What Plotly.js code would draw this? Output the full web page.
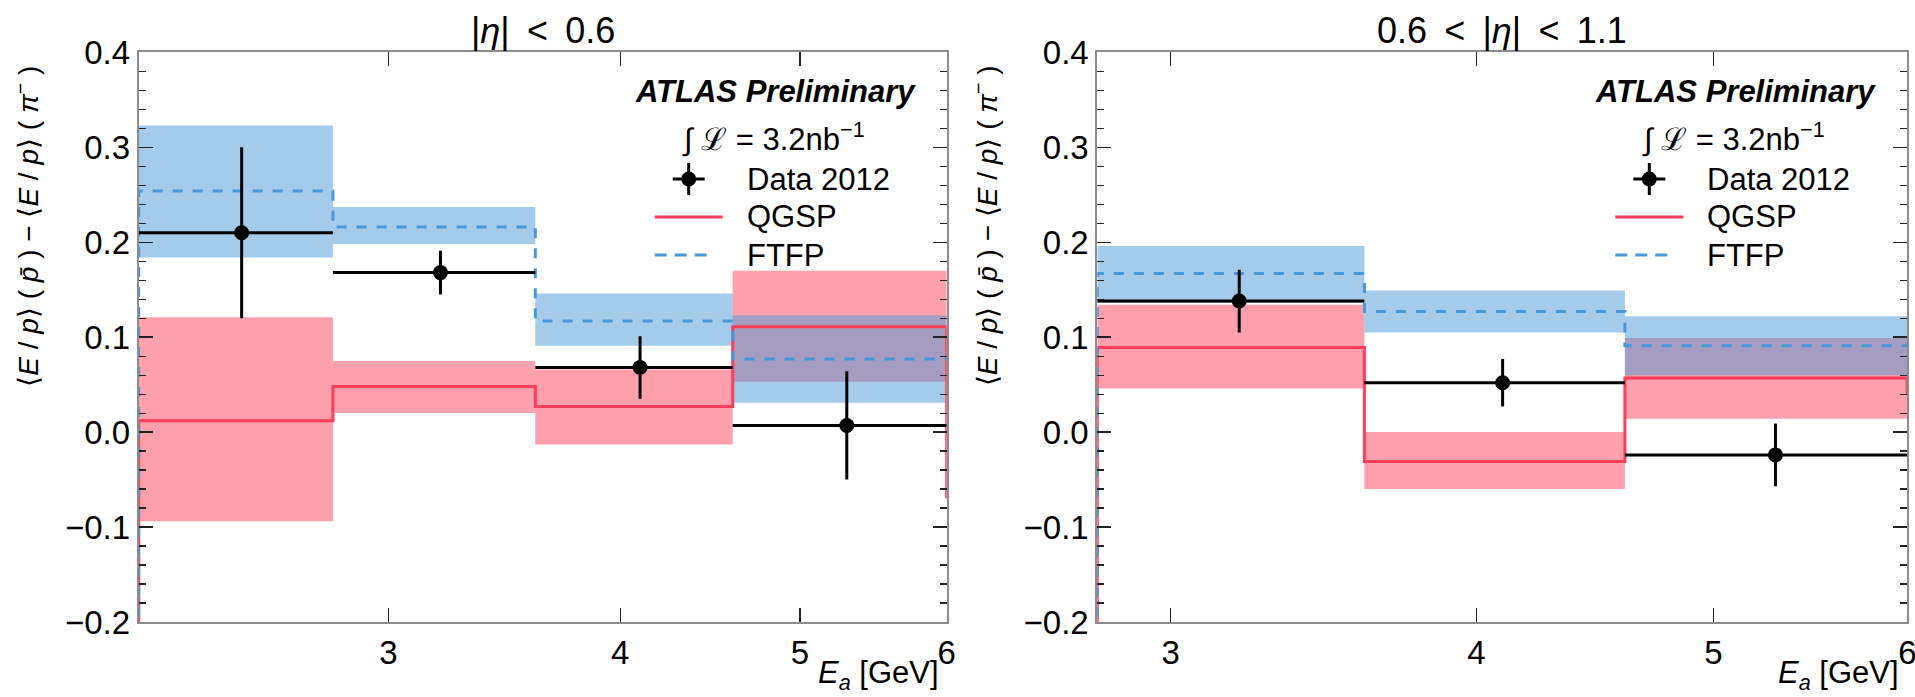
<!DOCTYPE html>
<html>
<head>
<meta charset="utf-8">
<script src="https://cdn.plot.ly/plotly-3.0.1.min.js"></script>
<style>
html, body { margin: 0; padding: 0; background: #fff; }
#chart { width: 1915px; height: 697px; }
</style>
</head>
<body>
<div id="chart"></div>
<script>
// ---------------- Data ----------------
// Panel 1: |eta| < 0.6
const edgesL   = [2.2, 2.8, 3.6, 4.6, 6.0];
const centersL = [2.5, 3.2, 4.1, 5.3];
const dataL    = [0.210, 0.168, 0.068, 0.007];
const dataErrL = [0.090, 0.023, 0.033, 0.057];
const qgspL    = [0.012, 0.048, 0.027, 0.111];
const qgspLoL  = [-0.094, 0.020, -0.013, 0.053];
const qgspHiL  = [0.121, 0.075, 0.066, 0.170];
const ftfpL    = [0.254, 0.216, 0.117, 0.077];
const ftfpLoL  = [0.184, 0.198, 0.091, 0.031];
const ftfpHiL  = [0.323, 0.237, 0.146, 0.123];
const qgspNextL = -0.070;

// Panel 2: 0.6 < |eta| < 1.1
const edgesR   = [2.8, 3.6, 4.6, 6.0];
const centersR = [3.2, 4.1, 5.3];
const dataR    = [0.138, 0.052, -0.024];
const dataErrR = [0.033, 0.025, 0.033];
const qgspR    = [0.089, -0.031, 0.057];
const qgspLoR  = [0.046, -0.060, 0.014];
const qgspHiR  = [0.134, 0.000, 0.099];
const ftfpR    = [0.167, 0.127, 0.091];
const ftfpLoR  = [0.136, 0.105, 0.060];
const ftfpHiR  = [0.196, 0.149, 0.122];
const qgspNextR = 0.040;

const xTickVals = [3, 4, 5, 6];
const xTickText = ['3', '4', '5', '6'];
const titles = ['|<i>η</i>|\u2009 < \u20090.6', '0.6\u2009 < \u2009|<i>η</i>|\u2009 < \u20091.1'];
const seriesNames = ['Data 2012', 'QGSP', 'FTFP'];

// ---------------- Styles ----------------
const FONT = 'Liberation Sans, Arial, Helvetica, sans-serif';
const QCOL = 'rgb(255,62,90)';
const FCOL = 'rgb(70,152,218)';
const QFILL = 'rgba(255,65,89,0.5)';
const FFILL = 'rgba(75,151,215,0.5)';
const W = 1915, H = 697;
const px = v => v / W;
const py = v => 1 - v / H;

function stepXY(edges, vals, start, end) {
  const x = [], y = [];
  if (start !== null) { x.push(edges[0]); y.push(start); }
  for (let i = 0; i < vals.length; i++) { x.push(edges[i]); y.push(vals[i]); }
  x.push(edges[edges.length - 1]); y.push(vals[vals.length - 1]);
  if (end !== null) { x.push(edges[edges.length - 1]); y.push(end); }
  return {x, y};
}

function panelTraces(edges, centers, data, err, q, qlo, qhi, f, flo, fhi, qNext, xa, ya) {
  const t = [];
  const band = (lo, hi, col) => {
    const u = stepXY(edges, hi, null, null), l = stepXY(edges, lo, null, null);
    t.push({x: u.x, y: u.y, xaxis: xa, yaxis: ya, mode: 'lines', line: {shape: 'hv', width: 0}, showlegend: false, hoverinfo: 'skip'});
    t.push({x: l.x, y: l.y, xaxis: xa, yaxis: ya, mode: 'lines', line: {shape: 'hv', width: 0}, fill: 'tonexty', fillcolor: col, showlegend: false, hoverinfo: 'skip'});
  };
  band(qlo, qhi, QFILL);
  band(flo, fhi, FFILL);
  const qs = stepXY(edges, q, -0.3, qNext);
  t.push({x: qs.x, y: qs.y, xaxis: xa, yaxis: ya, mode: 'lines', name: seriesNames[1], line: {shape: 'hv', color: QCOL, width: 3}, showlegend: false});
  const fs = stepXY(edges, f, -0.3, null);
  t.push({x: fs.x, y: fs.y, xaxis: xa, yaxis: ya, mode: 'lines', name: seriesNames[2], line: {shape: 'hv', color: FCOL, width: 3, dash: '10px,10px'}, showlegend: false});
  const exPlus = centers.map((c, i) => edges[i + 1] - c);
  const exMinus = centers.map((c, i) => c - edges[i]);
  t.push({x: centers, y: data, xaxis: xa, yaxis: ya, mode: 'markers', name: seriesNames[0], marker: {color: '#000', size: 15},
    error_y: {type: 'data', array: err, color: '#000', thickness: 3, width: 0},
    error_x: {type: 'data', symmetric: false, array: exPlus, arrayminus: exMinus, color: '#000', thickness: 3, width: 0},
    showlegend: false});
  return t;
}

const traces = [].concat(
  panelTraces(edgesL, centersL, dataL, dataErrL, qgspL, qgspLoL, qgspHiL, ftfpL, ftfpLoL, ftfpHiL, qgspNextL, 'x', 'y'),
  panelTraces(edgesR, centersR, dataR, dataErrR, qgspR, qgspLoR, qgspHiR, ftfpR, ftfpLoR, ftfpHiR, qgspNextR, 'x2', 'y2')
);

const tickfont = {family: FONT, size: 33, color: '#000'};
function xAxis(lo, dom, anchor) {
  return {type: 'log', range: [Math.log10(lo), Math.log10(6)], domain: dom, anchor: anchor,
    tickmode: 'array', tickvals: xTickVals, ticktext: xTickText, ticks: 'inside', ticklen: 14, tickwidth: 1.3, tickcolor: '#222',
    ticklabeloverflow: 'allow',
    showline: true, linecolor: '#8c8c8c', linewidth: 2, mirror: 'ticks', showgrid: false, zeroline: false, tickfont: tickfont};
}
function yAxis(anchor) {
  return {range: [-0.2, 0.4], domain: [py(622), py(52.3)], anchor: anchor,
    tickmode: 'linear', tick0: 0, dtick: 0.1, tickformat: '.1f', ticks: 'inside', ticklen: 14, tickwidth: 1.3, tickcolor: '#222',
    minor: {tickmode: 'linear', tick0: 0, dtick: 0.02, ticks: 'inside', ticklen: 7, tickwidth: 1.2, tickcolor: '#222'},
    showline: true, linecolor: '#8c8c8c', linewidth: 2, mirror: 'ticks', showgrid: false, zeroline: false, tickfont: tickfont};
}

const ylabel = '⟨<i>E</i> / <i>p</i>⟩ ( <i>p̄</i> ) − ⟨<i>E</i> / <i>p</i>⟩ ( <i>π</i><sup>−</sup> )';
const xlabel = '<i>E</i><sub><i>a</i></sub> [GeV]';

function ann(text, x, y, xanchor, size, extra) {
  return Object.assign({text: text, x: px(x), y: py(y), xref: 'paper', yref: 'paper', showarrow: false,
    xanchor: xanchor, yanchor: 'middle', font: {family: FONT, size: size, color: '#000'}}, extra || {});
}

// legend rows (y in px) and key geometry relative to panel right edge
const rowY = [179, 217, 255];
function panelDecor(left, right, title) {
  const keyStart = right - 292, keyEnd = right - 224, keyMid = right - 258, textX = right - 202;
  const annotations = [
    ann(title, (left + right) / 2, 31, 'center', 36),
    ann('<b><i>ATLAS Preliminary</i></b>', right - 29, 92, 'right', 31),
    ann('∫ ℒ = 3.2nb<sup>−1</sup>', right - 80, 137, 'right', 31),
    ann(xlabel, right - 6, 675, 'right', 31),
    ann(ylabel, left - 112, 226, 'center', 28, {textangle: -90})
  ];
  seriesNames.forEach((n, i) => annotations.push(ann(n, textX, rowY[i], 'left', 31)));
  const L = (x0, y0, x1, y1, color, dash) => ({type: 'line', xref: 'paper', yref: 'paper',
    x0: px(x0), y0: py(y0), x1: px(x1), y1: py(y1), line: {color: color, width: 3, dash: dash || 'solid'}});
  const shapes = [
    L(keyMid - 16, rowY[0], keyMid + 16, rowY[0], '#000'),
    L(keyMid, rowY[0] - 16, keyMid, rowY[0] + 16, '#000'),
    {type: 'circle', xref: 'paper', yref: 'paper', x0: px(keyMid - 7.5), x1: px(keyMid + 7.5), y0: py(rowY[0] + 7.5), y1: py(rowY[0] - 7.5),
      fillcolor: '#000', line: {color: '#000', width: 0}},
    L(keyStart, rowY[1], keyEnd, rowY[1], QCOL),
    L(keyStart, rowY[2], keyStart + 60, rowY[2], FCOL, '12px,8px')
  ];
  return {annotations, shapes};
}

const L1 = 138.7, R1 = 946.7, L2 = 1097.3, R2 = 1907.3;
const d1 = panelDecor(L1, R1, titles[0]);
const d2 = panelDecor(L2, R2, titles[1]);

const layout = {
  width: W, height: H,
  margin: {l: 0, r: 0, t: 0, b: 0},
  paper_bgcolor: '#fff', plot_bgcolor: '#fff',
  showlegend: false,
  xaxis: xAxis(2.2, [px(L1), px(R1)], 'y'),
  yaxis: yAxis('x'),
  xaxis2: xAxis(2.8, [px(L2), px(R2)], 'y2'),
  yaxis2: yAxis('x2'),
  annotations: d1.annotations.concat(d2.annotations),
  shapes: d1.shapes.concat(d2.shapes)
};

Plotly.newPlot('chart', traces, layout, {displayModeBar: false, staticPlot: true});
</script>
</body>
</html>
